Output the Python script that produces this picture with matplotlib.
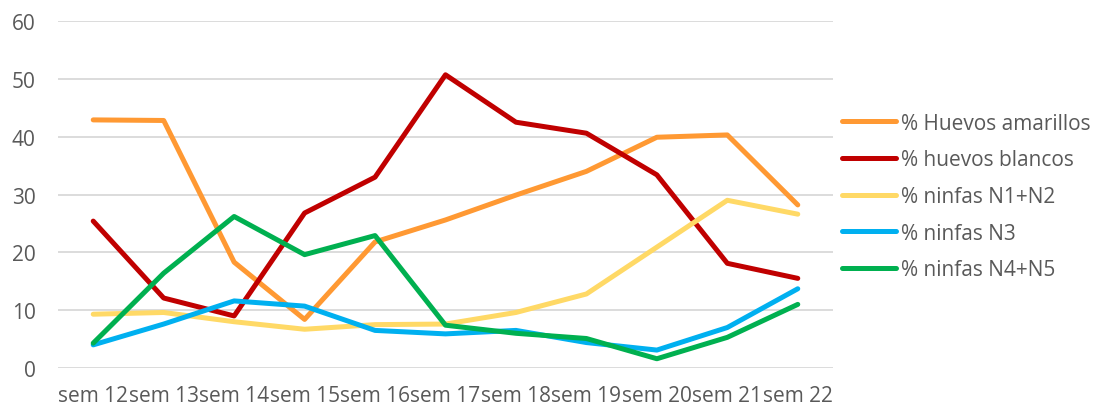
import matplotlib
matplotlib.use("Agg")
import matplotlib.pyplot as plt

# weekly percentages
weeks = ["sem 12", "sem 13", "sem 14", "sem 15", "sem 16", "sem 17",
         "sem 18", "sem 19", "sem 20", "sem 21", "sem 22"]
huevos_amarillos = [42.9, 42.8, 18.3, 8.4, 21.8, 25.6, 29.9, 34.0, 39.9, 40.3, 28.2]
huevos_blancos = [25.4, 12.1, 9.0, 26.8, 33.0, 50.7, 42.5, 40.6, 33.4, 18.1, 15.5]
ninfas_n1n2 = [9.3, 9.6, 8.0, 6.7, 7.5, 7.6, 9.6, 12.8, 20.9, 29.0, 26.6]
ninfas_n3 = [4.0, 7.6, 11.6, 10.7, 6.5, 5.9, 6.5, 4.4, 3.1, 7.0, 13.7]
ninfas_n4n5 = [4.3, 16.4, 26.2, 19.6, 22.9, 7.4, 6.0, 5.1, 1.6, 5.3, 11.0]

series = [
    ("% Huevos amarillos", huevos_amarillos, "#FF9933"),
    ("% huevos blancos", huevos_blancos, "#C00000"),
    ("% ninfas N1+N2", ninfas_n1n2, "#FFD966"),
    ("% ninfas N3", ninfas_n3, "#00B0F0"),
    ("% ninfas N4+N5", ninfas_n4n5, "#00B050"),
]

plt.rcParams["font.family"] = ["Open Sans", "DejaVu Sans"]
TEXT = "#595959"

fig = plt.figure(figsize=(10.93, 4.10), dpi=100)
ax = fig.add_axes([58 / 1093, 1 - 369 / 410, (833 - 58) / 1093, (369 - 22) / 410])

x = list(range(len(weeks)))
for label, vals, color in series:
    ax.plot(x, vals, color=color, lw=3.6, label=label,
            solid_capstyle="round", solid_joinstyle="round")

ax.set_xlim(-0.5, len(weeks) - 0.5)
ax.set_ylim(0, 60)
ax.set_yticks(range(0, 61, 10))
ax.set_xticks(x)
ax.set_xticklabels(weeks)
ax.grid(axis="y", color="#D9D9D9", lw=1.3)
ax.set_axisbelow(True)
for s in ax.spines.values():
    s.set_visible(False)
ax.tick_params(axis="both", length=0, labelsize=15, labelcolor=TEXT)
ax.tick_params(axis="y", pad=16)
ax.tick_params(axis="x", pad=12)

fig.legend(loc="center left", bbox_to_anchor=(842 / 1093, 1 - 197.5 / 410),
           frameon=False, fontsize=15, labelcolor=TEXT, handlelength=2.6,
           handletextpad=0.25, labelspacing=0.75, borderpad=0, borderaxespad=0)

fig.savefig("out.png", dpi=100)
